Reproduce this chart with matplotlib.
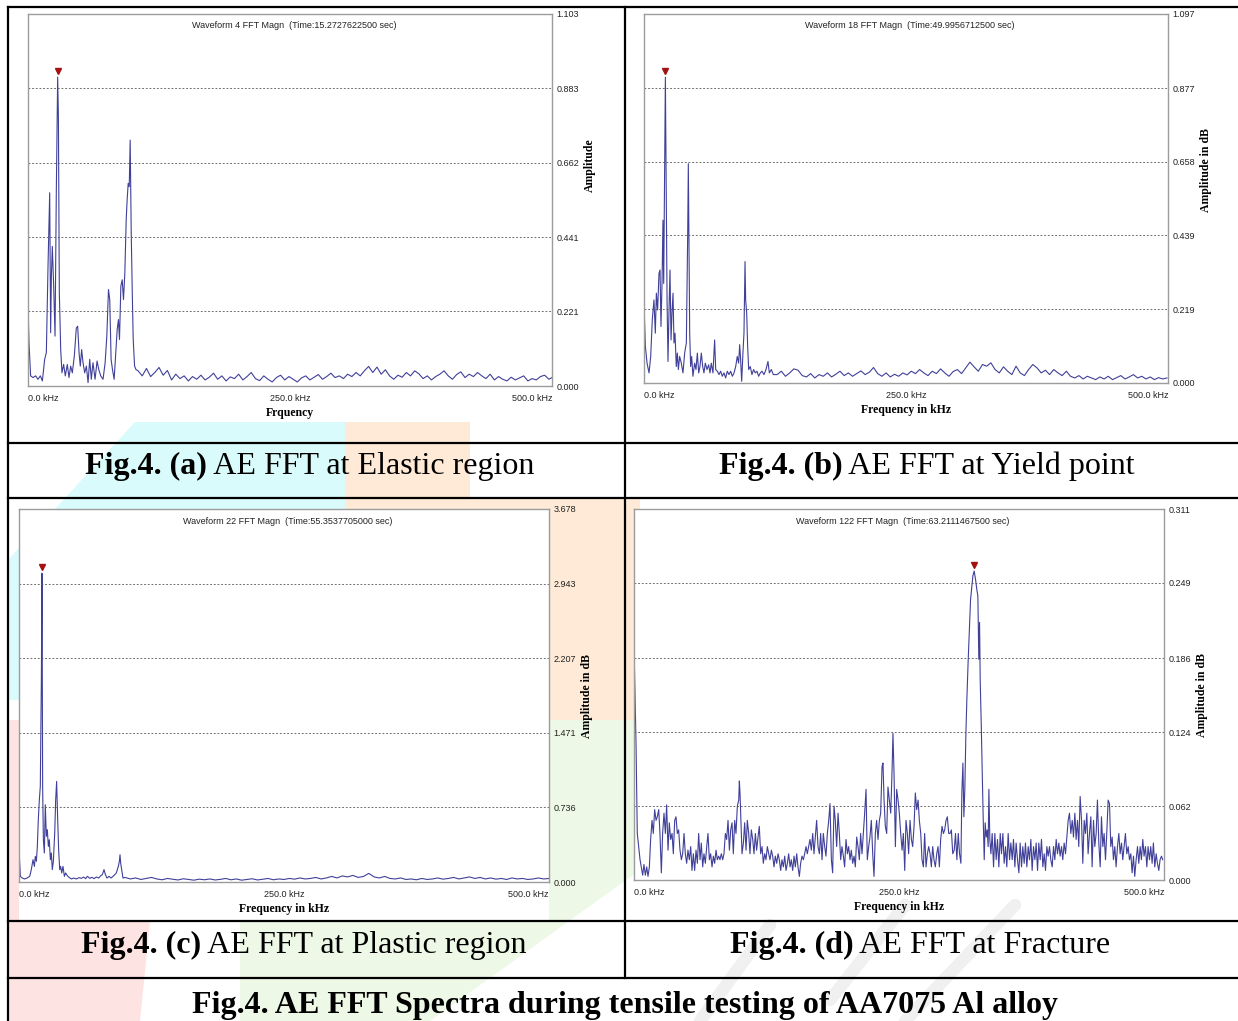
"""
AE FFT spectra (AA7075 tensile test), four panels in a table layout.
"""

import matplotlib
matplotlib.use('Agg')
import matplotlib.pyplot as plt
import matplotlib.transforms as mtransforms
from matplotlib.lines import Line2D
from matplotlib.patches import Polygon

W, H = 1238, 1021

# ---- (a) elastic region ----
elastic_freq = [
    0, 0.95, 2.5, 4.8, 7.3, 9.5, 11.8, 13.7, 15.9, 17.5,
    19.1, 20.7, 21.6, 22.3, 23.2, 24.5, 25.8, 27.0, 28.3, 29.0,
    29.9, 31.2, 32.4, 34.0, 35.6, 37.5, 39.1, 40.7, 42.3, 44.2,
    46.1, 47.4, 48.7, 49.9, 51.2, 52.5, 54.1, 55.7, 57.3, 58.9,
    60.4, 62.0, 64.0, 65.9, 67.5, 69.4, 71.6, 73.6, 75.2, 76.8,
    78.0, 79.3, 80.6, 82.2, 83.8, 85.1, 86.3, 87.3, 88.6, 89.9,
    91.1, 92.4, 93.7, 94.6, 95.6, 96.6, 97.5, 98.5, 99.5, 100.4,
    101.7, 103.0,
    105, 109, 113, 117, 121, 125, 129, 133, 137, 141,
    145, 149, 153, 157, 161, 165, 169, 173, 177, 181,
    185, 189, 193, 197, 201, 205, 209, 213, 217, 221,
    225, 229, 233, 237, 241, 245, 249, 253, 257, 261,
    265, 269, 273, 277, 281, 285, 289, 293, 297, 301,
    305, 309, 313, 317, 321, 325, 329, 333, 337, 341,
    345, 349, 353, 357, 361, 365, 369, 373, 377, 381,
    385, 389, 393, 397, 401, 405, 409, 413, 417, 421,
    425, 429, 433, 437, 441, 445, 449, 453, 457, 461,
    465, 469, 473, 477, 481, 485, 489, 493, 497, 500,
]
elastic_amp = [
    0.236, 0.128, 0.030, 0.025, 0.030, 0.020, 0.030, 0.015, 0.079, 0.099,
    0.355, 0.573, 0.158, 0.325, 0.414, 0.296, 0.148, 0.571, 0.916, 0.798,
    0.276, 0.108, 0.039, 0.064, 0.030, 0.064, 0.025, 0.059, 0.039, 0.089,
    0.172, 0.177, 0.099, 0.059, 0.108, 0.069, 0.039, 0.059, 0.010, 0.079,
    0.020, 0.069, 0.020, 0.074, 0.049, 0.030, 0.020, 0.069, 0.148, 0.286,
    0.256, 0.079, 0.049, 0.020, 0.099, 0.167, 0.197, 0.138, 0.296, 0.315,
    0.256, 0.335, 0.493, 0.552, 0.601, 0.591, 0.729, 0.453, 0.276, 0.138,
    0.059, 0.049,
    0.045, 0.030, 0.052, 0.028, 0.040, 0.055, 0.032, 0.046, 0.018, 0.035,
    0.022, 0.030, 0.015, 0.028, 0.020, 0.032, 0.018, 0.026, 0.038, 0.020,
    0.030, 0.015, 0.027, 0.022, 0.035, 0.018, 0.028, 0.040, 0.022, 0.016,
    0.030, 0.020, 0.012, 0.025, 0.032, 0.018, 0.028, 0.020, 0.012, 0.024,
    0.030, 0.018, 0.026, 0.034, 0.020, 0.028, 0.038, 0.025, 0.030, 0.022,
    0.035, 0.028, 0.040, 0.030, 0.045, 0.058, 0.040, 0.056, 0.035, 0.048,
    0.030, 0.020, 0.032, 0.026, 0.040, 0.030, 0.045, 0.036, 0.022, 0.030,
    0.018, 0.028, 0.035, 0.045, 0.030, 0.020, 0.034, 0.042, 0.025, 0.035,
    0.028, 0.040, 0.030, 0.022, 0.035, 0.018, 0.028, 0.020, 0.015, 0.026,
    0.018, 0.024, 0.030, 0.015, 0.022, 0.018, 0.028, 0.032, 0.020, 0.025,
]
elastic_ticks = [0.000, 0.221, 0.441, 0.662, 0.883, 1.103]

# ---- (b) yield point ----
yield_freq = [
    0, 1.3, 2.9, 4.8, 6.4, 7.9, 9.5, 10.8, 11.8, 13.0,
    14.3, 15.3, 16.2, 17.2, 18.1, 18.8, 19.7, 20.4, 21.0, 22.0,
    22.9, 23.8, 24.8, 25.8, 26.7, 27.7, 28.6, 29.6, 30.8, 31.8,
    32.8, 34.0, 35.6, 37.2, 38.8, 40.4, 41.7, 42.3, 42.9, 43.6,
    44.5, 45.5, 46.7, 48.3, 49.6, 50.9, 52.2, 53.4, 54.7, 56.0,
    57.2, 58.5, 60.1, 61.7, 63.0, 64.2, 65.8, 67.4, 68.4, 70.0,
    71.6, 73.1, 74.7, 76.3, 77.9, 79.5, 81.1, 82.7, 84.3, 85.9,
    87.5, 89.0, 90.3, 91.3, 92.2, 93.2, 94.4, 95.4, 96.4, 97.0,
    98.0, 98.9, 99.9, 101.4, 103.0, 104.6, 106.2, 107.8, 109.4, 111.0,
    112.6, 114.5, 116.4, 118.3, 119.6, 121.5, 123.4,
    127, 131, 135, 139, 143, 147, 151, 155, 159, 163,
    167, 171, 175, 179, 183, 187, 191, 195, 199, 203,
    207, 211, 215, 219, 223, 227, 231, 235, 239, 243,
    247, 251, 255, 259, 263, 267, 271, 275, 279, 283,
    287, 291, 295, 299, 303, 307, 311, 315, 319, 323,
    327, 331, 335, 339, 343, 347, 351, 355, 359, 363,
    367, 371, 375, 379, 383, 387, 391, 395, 399, 403,
    407, 411, 415, 419, 423, 427, 431, 435, 439, 443,
    447, 451, 455, 459, 463, 467, 471, 475, 479, 483,
    487, 491, 495, 499,
]
yield_amp = [
    0.237, 0.109, 0.059, 0.030, 0.079, 0.188, 0.247, 0.148, 0.267, 0.217,
    0.326, 0.336, 0.168, 0.296, 0.484, 0.296, 0.662, 0.909, 0.672, 0.247,
    0.064, 0.207, 0.336, 0.128, 0.207, 0.267, 0.119, 0.148, 0.049, 0.089,
    0.040, 0.079, 0.059, 0.030, 0.089, 0.119, 0.445, 0.652, 0.425, 0.148,
    0.049, 0.079, 0.020, 0.059, 0.040, 0.089, 0.030, 0.049, 0.089, 0.049,
    0.030, 0.059, 0.040, 0.054, 0.030, 0.059, 0.030, 0.128, 0.040, 0.035,
    0.025, 0.035, 0.020, 0.030, 0.015, 0.035, 0.025, 0.035, 0.020, 0.030,
    0.049, 0.079, 0.059, 0.114, 0.069, 0.005, 0.089, 0.148, 0.361, 0.247,
    0.207, 0.109, 0.040, 0.049, 0.025, 0.040, 0.030, 0.035, 0.020, 0.030,
    0.035, 0.025, 0.040, 0.064, 0.030, 0.040, 0.025,
    0.025, 0.035, 0.020, 0.030, 0.042, 0.038, 0.022, 0.018, 0.028, 0.015,
    0.025, 0.020, 0.030, 0.018, 0.026, 0.035, 0.022, 0.030, 0.020, 0.028,
    0.036, 0.025, 0.032, 0.046, 0.028, 0.020, 0.030, 0.018, 0.026, 0.020,
    0.030, 0.024, 0.035, 0.028, 0.040, 0.030, 0.022, 0.035, 0.028, 0.042,
    0.030, 0.020, 0.034, 0.040, 0.028, 0.045, 0.062, 0.048, 0.035, 0.055,
    0.050, 0.060, 0.040, 0.030, 0.048, 0.035, 0.025, 0.050, 0.030, 0.022,
    0.040, 0.055, 0.045, 0.030, 0.038, 0.025, 0.040, 0.030, 0.022, 0.035,
    0.020, 0.015, 0.022, 0.012, 0.020, 0.015, 0.010, 0.018, 0.012, 0.020,
    0.010, 0.016, 0.022, 0.012, 0.018, 0.025, 0.015, 0.020, 0.012, 0.018,
    0.010, 0.016, 0.012, 0.015,
]
yield_ticks = [0.000, 0.219, 0.439, 0.658, 0.877, 1.097]

# ---- (c) plastic region ----
plastic_freq = [
    0, 1.3, 3.1, 5.3, 7.5, 10.1, 11.6, 13.2, 14.5, 15.4,
    16.4, 17.3, 18.2, 19.2, 20.1, 21.1, 21.7, 22.3, 23.0, 23.9,
    24.8, 25.8, 26.7, 27.7, 28.6, 29.6, 30.5, 31.4, 32.4, 33.7,
    34.6, 35.5, 36.5, 37.4, 38.4, 39.3, 40.3, 41.5, 42.8, 44.0,
    45.6, 47.2, 49.4, 51.6, 54.1, 56.6, 58.8, 61.0, 62.9, 64.5,
    66.7, 68.9, 70.8, 73.0, 75.2, 77.1, 78.6, 80.2, 81.5, 83.0,
    84.9, 86.8, 88.7, 90.3, 91.8, 92.8, 93.7, 94.7, 95.3, 95.9,
    96.9, 98.1,
    100, 105, 110, 115, 120, 125, 130, 135, 140, 145,
    150, 155, 160, 165, 170, 175, 180, 185, 190, 195,
    200, 205, 210, 215, 220, 225, 230, 235, 240, 245,
    250, 255, 260, 265, 270, 275, 280, 285, 290, 295,
    300, 305, 310, 315, 320, 325, 330, 335, 340, 345,
    350, 355, 360, 365, 370, 375, 380, 385, 390, 395,
    400, 405, 410, 415, 420, 425, 430, 435, 440, 445,
    450, 455, 460, 465, 470, 475, 480, 485, 490, 495,
    500,
]
plastic_amp = [
    0.319, 0.056, 0.039, 0.030, 0.039, 0.056, 0.122, 0.220, 0.154, 0.253,
    0.204, 0.351, 0.614, 0.811, 0.943, 1.993, 3.044, 0.943, 0.417, 0.286,
    0.762, 0.450, 0.516, 0.351, 0.417, 0.220, 0.286, 0.122, 0.204, 0.483,
    0.811, 0.992, 0.614, 0.319, 0.122, 0.154, 0.089, 0.154, 0.056, 0.089,
    0.062, 0.046, 0.030, 0.039, 0.030, 0.043, 0.036, 0.049, 0.033, 0.056,
    0.036, 0.046, 0.033, 0.049, 0.039, 0.062, 0.072, 0.122, 0.072, 0.039,
    0.056, 0.039, 0.056, 0.072, 0.089, 0.122, 0.154, 0.204, 0.269, 0.187,
    0.122, 0.039,
    0.045, 0.030, 0.040, 0.025, 0.035, 0.045, 0.030, 0.022, 0.035, 0.028,
    0.020, 0.032, 0.025, 0.018, 0.028, 0.022, 0.030, 0.020, 0.026, 0.035,
    0.022, 0.030, 0.018, 0.025, 0.032, 0.020, 0.028, 0.035, 0.022, 0.030,
    0.025, 0.035, 0.028, 0.040, 0.030, 0.035, 0.045, 0.030, 0.040, 0.055,
    0.040, 0.060, 0.050, 0.065, 0.045, 0.055, 0.085, 0.050, 0.040, 0.055,
    0.035, 0.030, 0.040, 0.025, 0.030, 0.022, 0.035, 0.025, 0.030, 0.040,
    0.028, 0.035, 0.045, 0.030, 0.040, 0.050, 0.035, 0.045, 0.030, 0.040,
    0.028, 0.035, 0.025, 0.040, 0.030, 0.035, 0.025, 0.030, 0.040, 0.030,
    0.035,
]
plastic_ticks = [0.000, 0.736, 1.471, 2.207, 2.943, 3.678]

# ---- (d) fracture ----
fracture_freq = [
    0, 1.9, 3.1, 4.4, 5.7, 6.9, 8.2, 9.4, 10.7, 12.0,
    13.2, 14.5, 15.7, 17.0, 18.2, 19.5, 20.8, 22.0, 23.3, 24.5,
    25.8, 27.0, 28.3, 29.6, 30.8, 32.1, 33.3, 34.6, 35.9, 37.1,
    38.4, 39.6, 40.9, 42.1, 43.4, 44.7, 45.9, 47.2, 48.4, 49.7,
    50.9, 52.2, 53.5, 54.7, 56.0, 57.2, 58.5, 59.8, 61.0, 62.3,
    63.5, 64.8, 66.0, 67.3, 68.6, 69.8, 71.1, 72.3, 73.6, 74.9,
    76.1, 77.4, 78.6, 79.9, 81.1, 82.4, 83.7, 84.9, 86.2, 87.4,
    88.7, 90.0, 91.2, 92.5, 93.7, 95.0, 96.2, 97.5, 98.8, 99.4,
    100.0, 101.0, 101.9, 103.2, 104.4, 105.7, 106.9, 108.2, 109.4, 110.7,
    112.0, 113.2, 114.5, 115.7, 117.0, 118.2, 119.5, 120.8, 122.0, 123.3,
    124.5, 125.8, 127.1, 128.3, 129.6, 130.8, 132.1, 133.3, 134.6, 135.9,
    137.1, 138.4, 139.6, 140.9, 142.2, 143.4, 144.7, 145.9, 147.2, 148.4,
    149.7, 151.0, 152.2, 153.5, 154.7, 156.0, 157.2, 158.5, 159.8, 161.0,
    162.3, 163.5, 164.8, 166.0, 167.3, 168.6, 169.8, 171.1, 172.3, 173.6,
    174.9, 176.1, 177.4, 178.6, 179.9, 181.1, 182.4, 183.7, 184.9, 186.2,
    187.4, 188.7, 189.9, 191.2, 192.5, 193.7, 195.0, 196.2, 197.5, 198.7,
    200.0, 201.3, 202.5, 203.8, 205.0, 206.3, 207.6, 208.8, 210.1, 211.3,
    212.6, 213.8, 215.1, 216.4, 217.6, 218.9, 220.1, 221.4, 222.6, 223.9,
    225.2, 226.4, 227.7, 228.9, 230.2, 231.5, 232.7, 234.0, 234.9, 235.9,
    237.1, 238.4, 239.6, 240.9, 242.2, 243.4, 244.3, 245.3, 246.6, 247.8,
    249.1, 250.3, 251.6, 252.9, 254.1, 255.4, 256.6, 257.9, 259.1, 260.4,
    261.7, 262.9, 264.2, 265.4, 266.7, 268.0, 269.2, 270.5, 271.7, 273.0,
    274.2, 275.5, 276.8, 278.0, 279.3, 280.5, 281.8, 283.0, 284.3, 285.6,
    286.8, 288.1, 289.3, 290.6, 291.9, 293.1, 294.4, 295.6, 296.9, 298.1,
    299.4, 300.7, 302.1, 303.3, 304.6, 305.9, 307.1, 308.4, 309.3, 310.3,
    311.2, 312.1, 313.1, 314.0, 315.3, 316.5, 317.5, 318.4, 319.7, 320.9,
    322.2, 323.5, 324.4, 325.3, 326.0, 326.6, 327.5, 328.5, 329.4, 330.4,
    331.3, 332.3, 333.2, 334.1, 334.8, 335.7, 336.7, 337.9, 339.2, 340.4,
    341.7, 342.9, 344.2, 345.5, 346.7, 348.0, 349.2, 350.5, 351.7, 353.0,
    354.3, 355.5, 356.8, 358.0, 359.3, 360.5, 361.8, 363.1, 364.3, 365.6,
    366.8, 368.1, 369.3, 370.6, 371.9, 373.1, 374.4, 375.6, 376.9, 378.2,
    379.4, 380.7, 381.9, 383.2, 384.4, 385.7, 387.0, 388.2, 389.5, 390.7,
    392.0, 393.2, 394.5, 395.8, 397.0, 398.3, 399.5, 400.8, 402.0, 403.3,
    404.5, 405.8, 407.1, 408.3, 409.6, 410.8, 412.1, 413.4, 414.6, 415.9,
    417.1, 418.4, 419.6, 420.9, 422.2, 423.4, 424.7, 425.9, 427.2, 428.4,
    429.7, 431.0, 432.2, 433.5, 434.7, 436.0, 437.2, 438.5, 439.8, 441.0,
    442.3, 443.5, 444.8, 446.0, 447.3, 448.6, 449.8, 451.1, 452.3, 453.6,
    454.8, 456.1, 457.4, 458.6, 459.9, 461.1, 462.4, 463.6, 464.9, 466.2,
    467.4, 468.7, 469.9, 471.2, 472.4, 473.7, 475.0, 476.2, 477.5, 478.7,
    480.0, 481.2, 482.5, 483.8, 485.0, 486.3, 487.5, 488.8, 490.0, 491.3,
    492.6, 493.8, 495.1, 496.3, 497.6, 498.8,
]
fracture_amp = [
    0.197, 0.115, 0.039, 0.028, 0.017, 0.011, 0.004, 0.013, 0.004, 0.011,
    0.003, 0.011, 0.034, 0.050, 0.039, 0.059, 0.050, 0.053, 0.059, 0.039,
    0.006, 0.039, 0.056, 0.039, 0.063, 0.025, 0.048, 0.034, 0.039, 0.022,
    0.050, 0.053, 0.039, 0.042, 0.025, 0.017, 0.022, 0.039, 0.022, 0.014,
    0.025, 0.017, 0.028, 0.008, 0.022, 0.008, 0.025, 0.014, 0.039, 0.017,
    0.031, 0.011, 0.022, 0.014, 0.028, 0.039, 0.017, 0.022, 0.011, 0.020,
    0.014, 0.025, 0.017, 0.020, 0.017, 0.022, 0.017, 0.022, 0.039, 0.034,
    0.050, 0.025, 0.042, 0.048, 0.022, 0.050, 0.039, 0.062, 0.067, 0.083,
    0.073, 0.045, 0.022, 0.031, 0.048, 0.025, 0.050, 0.039, 0.022, 0.042,
    0.034, 0.022, 0.039, 0.025, 0.036, 0.045, 0.022, 0.028, 0.014, 0.022,
    0.017, 0.028, 0.022, 0.017, 0.025, 0.020, 0.011, 0.020, 0.014, 0.022,
    0.017, 0.008, 0.017, 0.011, 0.020, 0.008, 0.014, 0.022, 0.011, 0.017,
    0.008, 0.020, 0.011, 0.022, 0.011, 0.003, 0.014, 0.020, 0.017, 0.022,
    0.028, 0.022, 0.028, 0.034, 0.025, 0.039, 0.022, 0.036, 0.050, 0.028,
    0.022, 0.039, 0.017, 0.039, 0.028, 0.020, 0.039, 0.050, 0.064, 0.017,
    0.006, 0.062, 0.050, 0.028, 0.056, 0.039, 0.017, 0.028, 0.020, 0.011,
    0.034, 0.022, 0.028, 0.017, 0.025, 0.014, 0.020, 0.011, 0.036, 0.028,
    0.017, 0.039, 0.022, 0.039, 0.056, 0.076, 0.017, 0.028, 0.036, 0.050,
    0.022, 0.003, 0.039, 0.050, 0.034, 0.050, 0.056, 0.095, 0.098, 0.067,
    0.045, 0.039, 0.078, 0.067, 0.056, 0.090, 0.123, 0.090, 0.028, 0.076,
    0.067, 0.056, 0.039, 0.025, 0.039, 0.008, 0.050, 0.039, 0.022, 0.050,
    0.034, 0.028, 0.045, 0.073, 0.059, 0.067, 0.050, 0.039, 0.017, 0.011,
    0.039, 0.011, 0.022, 0.028, 0.022, 0.011, 0.028, 0.017, 0.011, 0.022,
    0.028, 0.011, 0.034, 0.045, 0.039, 0.042, 0.050, 0.053, 0.039, 0.039,
    0.042, 0.022, 0.025, 0.039, 0.017, 0.039, 0.022, 0.014, 0.073, 0.098,
    0.053, 0.076, 0.123, 0.151, 0.185, 0.213, 0.235, 0.243, 0.255, 0.259,
    0.252, 0.243, 0.238, 0.185, 0.216, 0.168, 0.134, 0.090, 0.053, 0.017,
    0.048, 0.036, 0.042, 0.028, 0.076, 0.034, 0.022, 0.039, 0.011, 0.039,
    0.017, 0.034, 0.011, 0.039, 0.022, 0.039, 0.014, 0.028, 0.011, 0.039,
    0.017, 0.031, 0.017, 0.034, 0.011, 0.031, 0.017, 0.006, 0.031, 0.011,
    0.028, 0.014, 0.031, 0.011, 0.028, 0.017, 0.034, 0.008, 0.028, 0.017,
    0.031, 0.008, 0.031, 0.017, 0.034, 0.011, 0.022, 0.008, 0.028, 0.020,
    0.028, 0.017, 0.011, 0.028, 0.017, 0.034, 0.022, 0.031, 0.020, 0.028,
    0.017, 0.031, 0.022, 0.036, 0.050, 0.056, 0.039, 0.050, 0.036, 0.056,
    0.034, 0.050, 0.028, 0.070, 0.050, 0.014, 0.050, 0.039, 0.056, 0.022,
    0.039, 0.053, 0.011, 0.050, 0.028, 0.039, 0.067, 0.031, 0.011, 0.053,
    0.028, 0.039, 0.017, 0.039, 0.067, 0.064, 0.028, 0.036, 0.017, 0.028,
    0.011, 0.028, 0.039, 0.022, 0.031, 0.017, 0.028, 0.039, 0.022, 0.028,
    0.017, 0.022, 0.006, 0.020, 0.003, 0.017, 0.028, 0.014, 0.028, 0.017,
    0.034, 0.020, 0.028, 0.011, 0.028, 0.017, 0.028, 0.014, 0.031, 0.011,
    0.022, 0.014, 0.008, 0.017, 0.020, 0.017,
]
fracture_ticks = [0.000, 0.062, 0.124, 0.186, 0.249, 0.311]

x_tick_labels = ['0.0 kHz', '250.0 kHz', '500.0 kHz']

LINE = '#40409a'
SANS = 'Liberation Sans'
SERIF = 'Liberation Serif'

fig = plt.figure(figsize=(W / 100, H / 100), dpi=100)
fig.patch.set_facecolor('white')


def fx(x):
    return x / W


def fy(y):
    return 1 - y / H


# faint watermark behind the table
watermark = [
    ('#dafbfb', [(135, 422), (345, 422), (345, 520), (19, 700), (8, 700), (8, 560)]),
    ('#feead6', [(345, 422), (470, 422), (470, 498), (640, 498), (640, 720),
                 (549, 720), (549, 509), (345, 509)]),
    ('#edf8e6', [(549, 720), (640, 720), (640, 870), (430, 1021), (240, 1021),
                 (240, 922), (549, 922)]),
    ('#fee3e3', [(8, 720), (19, 720), (19, 922), (150, 922), (140, 1021), (8, 1021)]),
]
for col, pts in watermark:
    fig.add_artist(Polygon([(fx(x), fy(y)) for x, y in pts], closed=True,
                           facecolor=col, edgecolor='none', zorder=-2,
                           transform=fig.transFigure))
for pts in [[(700, 1021), (770, 925)], [(830, 1000), (905, 905)],
            [(905, 1021), (1015, 905)]]:
    fig.add_artist(Line2D([fx(p[0]) for p in pts], [fy(p[1]) for p in pts],
                          color='#f0f0f0', lw=9, zorder=-2,
                          transform=fig.transFigure, solid_capstyle='round'))


def panel(box, freq, amp, ticks, title, ylabel, xlabel, ylab_frac):
    l, t, r, b = box
    ax = fig.add_axes([fx(l), fy(b), (r - l) / W, (b - t) / H])
    ax.set_facecolor('white')
    ax.plot(freq, amp, color=LINE, lw=0.8)
    ax.set_xlim(0, 500)
    ax.set_ylim(0, ticks[-1])
    for v in ticks[1:-1]:
        ax.axhline(v, color='#555555', lw=0.6, ls=(0, (2.2, 2.2)))
    for s in ax.spines.values():
        s.set_color('#9c9c9c')
        s.set_linewidth(1.0)

    ax.yaxis.tick_right()
    ax.set_yticks(ticks)
    ax.set_yticklabels(['%.3f' % v for v in ticks])
    ax.tick_params(axis='y', length=0, pad=3, labelsize=6.5, labelcolor='#222222')
    ax.set_xticks([0, 250, 500])
    ax.set_xticklabels(x_tick_labels)
    ax.tick_params(axis='x', length=0, pad=6, labelsize=6.5, labelcolor='#222222')
    for lab in ax.get_yticklabels() + ax.get_xticklabels():
        lab.set_family(SANS)
    xl = ax.get_xticklabels()
    xl[0].set_ha('left')
    xl[2].set_ha('right')

    # peak marker
    i = max(range(len(amp)), key=lambda k: amp[k])
    tr = mtransforms.offset_copy(ax.transData, fig=fig, x=0, y=6, units='dots')
    ax.plot([freq[i]], [amp[i]], marker='v', color='#a31212', ms=4, transform=tr,
            clip_on=False)

    ax.annotate(title, xy=(0.5, 1), xycoords='axes fraction', xytext=(4, -12),
                textcoords='offset pixels', ha='center', va='center',
                fontsize=6.5, family=SANS, color='#222222')
    ax.annotate(ylabel, xy=(1, ylab_frac), xycoords='axes fraction', xytext=(38, 0),
                textcoords='offset pixels', ha='center', va='center', rotation=90,
                fontsize=8.5, family=SERIF, fontweight='bold')
    ax.annotate(xlabel, xy=(0.5, 0), xycoords='axes fraction', xytext=(0, -27),
                textcoords='offset pixels', ha='center', va='center',
                fontsize=8.5, family=SERIF, fontweight='bold')
    return ax


panel((28, 14, 552, 386), elastic_freq, elastic_amp, elastic_ticks,
      'Waveform 4 FFT Magn  (Time:15.2727622500 sec)', 'Amplitude', 'Frquency', 0.594)
panel((644, 14, 1168, 383), yield_freq, yield_amp, yield_ticks,
      'Waveform 18 FFT Magn  (Time:49.9956712500 sec)', 'Amplitude in dB',
      'Frequency in kHz', 0.576)
panel((19, 509, 549, 882), plastic_freq, plastic_amp, plastic_ticks,
      'Waveform 22 FFT Magn  (Time:55.3537705000 sec)', 'Amplitude in dB',
      'Frequency in kHz', 0.50)
panel((634, 509, 1164, 880), fracture_freq, fracture_amp, fracture_ticks,
      'Waveform 122 FFT Magn  (Time:63.2111467500 sec)', 'Amplitude in dB',
      'Frequency in kHz', 0.50)

# table rules
hlines = [7, 443, 498, 921, 978]
for y in hlines:
    fig.add_artist(Line2D([fx(8), 1], [fy(y), fy(y)], color='black', lw=1.6,
                          zorder=5, transform=fig.transFigure))
fig.add_artist(Line2D([fx(8), fx(8)], [fy(7), 0], color='black', lw=1.6,
                      zorder=5, transform=fig.transFigure))
fig.add_artist(Line2D([fx(625), fx(625)], [fy(7), fy(978)], color='black', lw=1.6,
                      zorder=5, transform=fig.transFigure))

renderer = fig.canvas.get_renderer()


def caption(cx, base_y, bold, normal, size=23):
    t1 = fig.text(0, fy(base_y), bold, fontsize=size, fontweight='bold',
                  family=SERIF, va='baseline', ha='left')
    parts = [t1]
    if normal:
        t2 = fig.text(0, fy(base_y), normal, fontsize=size, family=SERIF,
                      va='baseline', ha='left')
        parts.append(t2)
    widths = [p.get_window_extent(renderer).width for p in parts]
    x0 = cx - sum(widths) / 2
    for p, w in zip(parts, widths):
        p.set_x(fx(x0))
        x0 += w


caption(310, 474, 'Fig.4. (a)', ' AE FFT at Elastic region')
caption(927, 474, 'Fig.4. (b)', ' AE FFT at Yield point')
caption(304, 953, 'Fig.4. (c)', ' AE FFT at Plastic region')
caption(920, 953, 'Fig.4. (d)', ' AE FFT at Fracture')
caption(625, 1013, 'Fig.4. AE FFT Spectra during tensile testing of AA7075 Al alloy', '')

fig.savefig('out.png', dpi=100)
